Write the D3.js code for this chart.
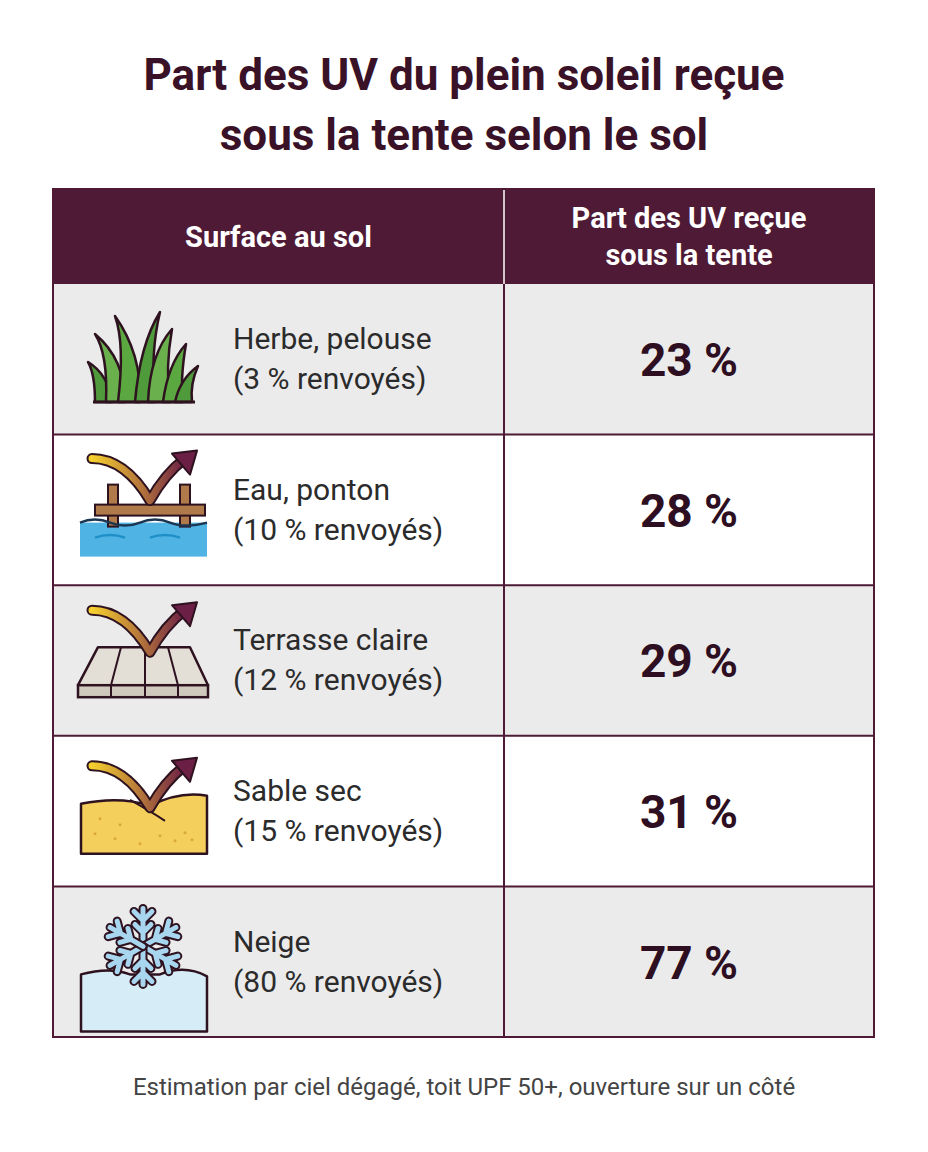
<!DOCTYPE html>
<html><head><meta charset="utf-8">
<script src="https://cdn.jsdelivr.net/npm/d3@7"></script>
<style>body{margin:0;background:#fff}</style></head>
<body><svg id="c" width="928" height="1152"></svg>
<script>
const titleLines = ["Part des UV du plein soleil reçue", "sous la tente selon le sol"];
const headers = ["Surface au sol", ["Part des UV reçue", "sous la tente"]];
const surfaces = ["Herbe, pelouse", "Eau, ponton", "Terrasse claire", "Sable sec", "Neige"];
const reflected = [3, 10, 12, 15, 80];
const received = [23, 28, 29, 31, 77];
const icons = ["grass", "dock", "deck", "sand", "snow"];
const footnote = "Estimation par ciel dégagé, toit UPF 50+, ouverture sur un côté";

const svg = d3.select("#c");
const F = "Roboto, 'Noto Sans', sans-serif";
const dark = "#3a1228", head = "#4f1a35", stroke = "#2e1220";
const L = 53, R = 874, split = 504, hTop = 189, hBot = 284, rowH = 150.6;
const y = d3.scaleBand().domain(d3.range(surfaces.length)).range([hBot, hBot + rowH * surfaces.length]);

svg.selectAll("text.t").data(titleLines).join("text").attr("x", 464).attr("y", (d,i)=>90+i*60)
  .attr("text-anchor","middle").attr("font-family",F).attr("font-weight",700).attr("font-size",44).attr("fill",dark).text(d=>d);

svg.append("rect").attr("x",L).attr("y",hTop).attr("width",R-L).attr("height",hBot-hTop).attr("fill",head);
svg.append("text").attr("x",(L+split)/2).attr("y",247).attr("text-anchor","middle").attr("font-family",F)
  .attr("font-weight",700).attr("font-size",29).attr("fill","#fff").text(headers[0]);
headers[1].forEach((t,i)=>svg.append("text").attr("x",(split+R)/2).attr("y",228+i*37).attr("text-anchor","middle")
  .attr("font-family",F).attr("font-weight",700).attr("font-size",29).attr("fill","#fff").text(t));
svg.append("line").attr("x1",split).attr("x2",split).attr("y1",hTop).attr("y2",hBot).attr("stroke","#fff").attr("stroke-width",1.5);

const g = svg.selectAll("g.row").data(surfaces).join("g").attr("transform",(d,i)=>`translate(0,${y(i)})`);
g.append("rect").attr("x",L).attr("width",R-L).attr("height",y.bandwidth()).attr("fill",(d,i)=>i%2?"#fff":"#ebebeb");
g.append("text").attr("x",233).attr("y",y.bandwidth()/2-10).attr("font-family",F).attr("font-size",30).attr("fill","#2b2b2b").text(d=>d);
g.append("text").attr("x",233).attr("y",y.bandwidth()/2+30).attr("font-family",F).attr("font-size",30).attr("fill","#2b2b2b").text((d,i)=>`(${reflected[i]} % renvoyés)`);
g.append("text").attr("x",(split+R)/2).attr("y",y.bandwidth()/2+17).attr("text-anchor","middle").attr("font-family",F)
  .attr("font-weight",700).attr("font-size",46).attr("fill","#2e0f22").text((d,i)=>`${received[i]} %`);

// grid lines
surfaces.forEach((d,i)=>{ if(i>0) svg.append("line").attr("x1",L).attr("x2",R).attr("y1",y(i)).attr("y2",y(i)).attr("stroke",head).attr("stroke-width",2); });
svg.append("line").attr("x1",split).attr("x2",split).attr("y1",hBot).attr("y2",y.range()[1]).attr("stroke",head).attr("stroke-width",2);
svg.append("rect").attr("x",L).attr("y",hTop).attr("width",R-L).attr("height",y.range()[1]-hTop).attr("fill","none").attr("stroke",head).attr("stroke-width",2);

// gradient for arrows
const defs = svg.append("defs");
const gr = defs.append("linearGradient").attr("id","ag").attr("x1","0").attr("x2","1").attr("y1","0").attr("y2","0");
gr.append("stop").attr("offset","0").attr("stop-color","#f5cf2e");
gr.append("stop").attr("offset","0.5").attr("stop-color","#b87a3a");
gr.append("stop").attr("offset","1").attr("stop-color","#6b1f45");

function arrow(ig, dy){
  const a = ig.append("g").attr("transform",`translate(0,${dy})`);
  a.append("path").attr("d","M92,30 Q125,30 150,72 Q165,45 185,30").attr("fill","none").attr("stroke",stroke).attr("stroke-width",11).attr("stroke-linecap","round").attr("stroke-linejoin","round");
  a.append("path").attr("d","M92,30 Q125,30 150,72 Q165,45 185,30").attr("fill","none").attr("stroke","url(#ag)").attr("stroke-width",7).attr("stroke-linecap","round").attr("stroke-linejoin","round");
  a.append("path").attr("d","M172,25 L197,22 L190,46 Z").attr("fill","#6b1f45").attr("stroke",stroke).attr("stroke-width",2).attr("stroke-linejoin","round");
}
const drawers = {
  grass(ig){
    const blades = [
      ["M95,118 Q95,90 88,78 Q108,90 112,118Z","#4f9a3a"],
      ["M106,118 Q108,70 95,50 Q125,75 125,118Z","#6ab04c"],
      ["M118,118 Q125,60 115,32 Q142,70 140,118Z","#5aa83f"],
      ["M135,118 Q140,60 160,28 Q150,70 155,118Z","#4f9a3a"],
      ["M148,118 Q150,70 172,45 Q165,85 170,118Z","#6ab04c"],
      ["M163,118 Q168,80 186,60 Q180,95 183,118Z","#5aa83f"],
      ["M175,118 Q180,95 198,82 Q190,100 192,118Z","#4f9a3a"]];
    blades.forEach(b=>ig.append("path").attr("d",b[0]).attr("fill",b[1]).attr("stroke",stroke).attr("stroke-width",2.5).attr("stroke-linejoin","round"));
    ig.append("line").attr("x1",93).attr("x2",195).attr("y1",118).attr("y2",118).attr("stroke",stroke).attr("stroke-width",3);
  },
  dock(ig){
    ig.append("rect").attr("x",80).attr("y",88).attr("width",127).attr("height",34).attr("fill","#4fb3e3");
    [[108,50],[180,50]].forEach(p=>ig.append("rect").attr("x",p[0]).attr("y",p[1]).attr("width",10).attr("height",42).attr("fill","#b07a4a").attr("stroke",stroke).attr("stroke-width",2));
    ig.append("rect").attr("x",95).attr("y",70).attr("width",110).attr("height",11).attr("fill","#b07a4a").attr("stroke",stroke).attr("stroke-width",2);
    ig.append("path").attr("d","M80,88 Q95,82 110,88 T140,88 T170,88 T207,88").attr("fill","none").attr("stroke","#1c3550").attr("stroke-width",2.5);
    ig.append("path").attr("d","M95,103 Q110,98 125,103").attr("fill","none").attr("stroke","#1f8fc8").attr("stroke-width",2.5);
    ig.append("path").attr("d","M150,103 Q165,98 180,103").attr("fill","none").attr("stroke","#1f8fc8").attr("stroke-width",2.5);
    arrow(ig,-6);
  },
  deck(ig){
    ig.append("path").attr("d","M98,62 L190,62 L208,100 L78,100 Z").attr("fill","#e4dfd6").attr("stroke",stroke).attr("stroke-width",2.5).attr("stroke-linejoin","round");
    ig.append("rect").attr("x",78).attr("y",100).attr("width",130).attr("height",12).attr("fill","#cfc8bd").attr("stroke",stroke).attr("stroke-width",2.5);
    [[121,111],[145,145],[168,178]].forEach(p=>{ig.append("line").attr("x1",p[0]).attr("y1",62).attr("x2",p[1]).attr("y2",100).attr("stroke",stroke).attr("stroke-width",2);
      ig.append("line").attr("x1",p[1]).attr("y1",100).attr("x2",p[1]).attr("y2",112).attr("stroke",stroke).attr("stroke-width",2);});
    arrow(ig,-5);
  },
  sand(ig){
    ig.append("path").attr("d","M81,68 Q120,60 150,70 Q180,55 207,60 L207,118 L81,118 Z").attr("fill","#f4cf5c").attr("stroke",stroke).attr("stroke-width",2.5).attr("stroke-linejoin","round");
    ig.append("path").attr("d","M130,64 Q150,75 165,85").attr("fill","none").attr("stroke",stroke).attr("stroke-width",2);
    [[100,83],[120,89],[95,98],[115,103],[140,108],[160,100],[175,105],[185,97],[192,104]].forEach(p=>ig.append("circle").attr("cx",p[0]).attr("cy",p[1]).attr("r",1.5).attr("fill","#d9a83a"));
    arrow(ig,0);
  },
  snow(ig){
    ig.append("path").attr("d","M81,88 Q110,80 130,88 L160,88 Q185,78 207,90 L207,145 L81,145 Z").attr("fill","#d6edf8").attr("stroke",stroke).attr("stroke-width",2.5).attr("stroke-linejoin","round");
    const f = ig.append("g").attr("transform","translate(143,60)");
    d3.range(6).forEach(k=>{
      const b = f.append("g").attr("transform",`rotate(${k*60})`);
      const p = "M0,0 L0,-38 M0,-26 L-9,-35 M0,-26 L9,-35 M0,-14 L-8,-22 M0,-14 L8,-22";
      b.append("path").attr("d",p).attr("stroke",stroke).attr("stroke-width",9).attr("stroke-linecap","round").attr("fill","none");
      b.append("path").attr("d",p).attr("stroke","#a9d6ef").attr("stroke-width",5).attr("stroke-linecap","round").attr("fill","none");
    });
  }
};
g.each(function(d,i){ drawers[icons[i]](d3.select(this).append("g")); });

svg.append("text").attr("x",464).attr("y",1095).attr("text-anchor","middle").attr("font-family",F).attr("font-size",24).attr("fill","#444").text(footnote);
</script></body></html>
